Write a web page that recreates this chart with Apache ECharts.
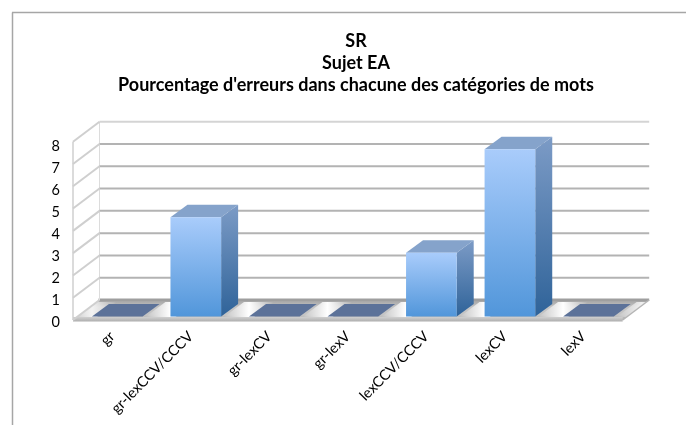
<!DOCTYPE html>
<html><head><meta charset="utf-8">
<style>html,body{margin:0;padding:0;background:#fff}#c{width:686px;height:425px}</style>
<script src="https://cdn.jsdelivr.net/npm/echarts@6/dist/echarts.min.js"></script>
</head><body><div id="c"></div>
<script>
const categories = ['gr','gr-lexCCV/CCCV','gr-lexCV','gr-lexV','lexCCV/CCCV','lexCV','lexV'];
const values = [0, 4.45, 0, 0, 2.86, 7.5, 0];
const yTicks = [0,1,2,3,4,5,6,7,8];
const titleLines = ['SR','Sujet EA',"Pourcentage d'erreurs dans chacune des catégories de mots"];

const WALL = [26.5, -20];   // oblique depth of the whole plot box
const BAR_IN = [5, -3.5];   // bars stand slightly behind the front edge
const BAR_D = [17, -12.5];  // depth of a bar
const vGrad = (a,b)=>new echarts.graphic.LinearGradient(0,0,0,1,[{offset:0,color:a},{offset:1,color:b}]);

function poly(points, style, z2){ return {type:'polygon', shape:{points}, style, z2:z2||0, silent:true}; }

const chart = echarts.init(document.getElementById('c'), null, {renderer:'canvas'});
chart.setOption({
  animation:false,
  backgroundColor:'#fff',
  title:{
    text:titleLines.join('\n'), left:351, top:25, textAlign:'center',
    textStyle:{fontFamily:'Lato',fontWeight:'bold',fontSize:18,lineHeight:22,color:'#000'}
  },
  grid:[
    {left:73, right:63.3, top:141.7, height:178.3},
    {left:73, right:63.3, top:146.5, height:175.5}   // carries the tick labels, which sit lower than the plot box
  ],
  xAxis:[
    {type:'category',data:categories,gridIndex:0,
     axisLine:{show:false},axisTick:{show:false},
     axisLabel:{rotate:45,interval:0,margin:14,fontFamily:'Lato',fontSize:14.5,color:'#000'}},
    {type:'category',data:categories,gridIndex:1,show:false}
  ],
  yAxis:[
    {type:'value',min:0,max:8,interval:1,gridIndex:0,show:false,splitLine:{show:false}},
    {type:'value',min:0,max:8,interval:1,gridIndex:1,
     splitLine:{show:false},axisLine:{show:false},axisTick:{show:false},
     axisLabel:{margin:13,fontFamily:'Lato',fontSize:14.5,color:'#000'}}
  ],
  graphic:[
    {type:'line',shape:{x1:12.5,y1:425,x2:12.5,y2:12.5},style:{stroke:'#a6a6a6',lineWidth:1.5},silent:true},
    {type:'line',shape:{x1:12,y1:12.5,x2:686,y2:12.5},style:{stroke:'#a6a6a6',lineWidth:1.5},silent:true}
  ],
  series:[
    { // walls and floor, drawn once per tick value
      type:'custom', coordinateSystem:'cartesian2d', z:1, clip:false,
      data:yTicks.map(v=>[0,v]),
      renderItem(p,api){
        const v=api.value(1), c=api.coord([0,v]), L=p.coordSys.x, R=L+p.coordSys.width, y=c[1];
        const bx=L+WALL[0], by=y+WALL[1], ex=R+WALL[0];
        const kids=[];
        const col = v===8 ? '#d4d4d4':'#b3b3b3';
        if(v===0){
          kids.push(poly([[L,y],[R,y],[ex,by],[bx,by]],{fill:new echarts.graphic.LinearGradient(0,0,0,1,[{offset:0,color:'#a2a2a2'},{offset:.35,color:'#c4c4c4'},{offset:.75,color:'#c4c4c4'},{offset:1,color:'#b0b0b0'}])}));
          // light stripes running into depth between the categories
          const step=(R-L)/categories.length, half=15;
          for(let k=0;k<=categories.length;k++){
            const fx=L+k*step+5, ybot=y-3, ytop=by+2, sh=(y-ybot)/(y-by)*WALL[0], st=(y-ytop)/(y-by)*WALL[0];
            const a=fx+sh-half, b=fx+sh+half, d=fx+st-half, e=fx+st+half;
            const ends=(k===0||k===categories.length);
            const stops=[{offset:0,color:'rgba(255,255,255,0)'},{offset:.5,color:ends?'rgba(255,255,255,.8)':'#ffffff'},{offset:1,color:'rgba(255,255,255,0)'}];
            const grad=new echarts.graphic.LinearGradient(a,0,e,0,stops,true);
            kids.push(poly([[a,ybot],[b,ybot],[e,ytop],[d,ytop]],{fill:grad}));
          }
          kids.push({type:'rect',shape:{x:bx-1,y:by-1.5,width:ex-bx+1,height:2.5},style:{fill:'#9f9f9f'},silent:true});
          kids.push({type:'rect',shape:{x:L,y:y-3,width:R-L,height:4.5},style:{fill:vGrad('#d0d0d0','#aeaeae')},silent:true});
          kids.push({type:'line',shape:{x1:R,y1:y,x2:ex,y2:by},style:{stroke:'#b5b5b5',lineWidth:1.5},silent:true});
        } else {
          kids.push({type:'line',shape:{x1:bx,y1:by,x2:ex,y2:by},style:{stroke:col,lineWidth:2},silent:true});
        }
        kids.push({type:'line',shape:{x1:L,y1:y,x2:bx,y2:by},style:{stroke:'#cfcfcf',lineWidth:2},silent:true});
        if(v===0) kids.push({type:'line',shape:{x1:L,y1:y,x2:L,y2:p.coordSys.y},style:{stroke:'#cfcfcf',lineWidth:1.5},silent:true});
        if(v===0) kids.push({type:'line',shape:{x1:bx,y1:by,x2:bx,y2:api.coord([0,8])[1]+WALL[1]},style:{stroke:'#dcdcdc',lineWidth:1},silent:true});
        return {type:'group',children:kids};
      }
    },
    { // 3D bars
      type:'custom', coordinateSystem:'cartesian2d', z:2, clip:false,
      data:values.map((v,i)=>[i,v]),
      encode:{x:0,y:1},
      renderItem(p,api){
        const i=api.value(0), v=api.value(1);
        const base=api.coord([i,0]), top=api.coord([i,v]);
        const w=api.size([1,0])[0]*0.645;
        const x0=base[0]+BAR_IN[0]-w/2, x1=x0+w;
        const yb=base[1]+BAR_IN[1], yt=top[1]+BAR_IN[1];
        const dx=BAR_D[0], dy=BAR_D[1];
        if(v===0){
          return poly([[x0,yb],[x1,yb],[x1+dx,yb+dy],[x0+dx,yb+dy]],{fill:'#5c7299'});
        }
        return {type:'group',children:[
          poly([[x1,yt],[x1+dx,yt+dy],[x1+dx,yb+dy],[x1,yb]],{fill:new echarts.graphic.LinearGradient(0,0,0,1,[{offset:0,color:'#7c9bc6'},{offset:1,color:'#2f6399'}])}),
          poly([[x0,yt],[x1,yt],[x1+dx,yt+dy],[x0+dx,yt+dy]],{fill:'#85a3cb'}),
          {type:'rect',shape:{x:x0,y:yt,width:w,height:yb-yt},style:{fill:vGrad('#a9ccfb','#5196da')},silent:true}
        ]};
      }
    }
  ]
});
</script></body></html>
